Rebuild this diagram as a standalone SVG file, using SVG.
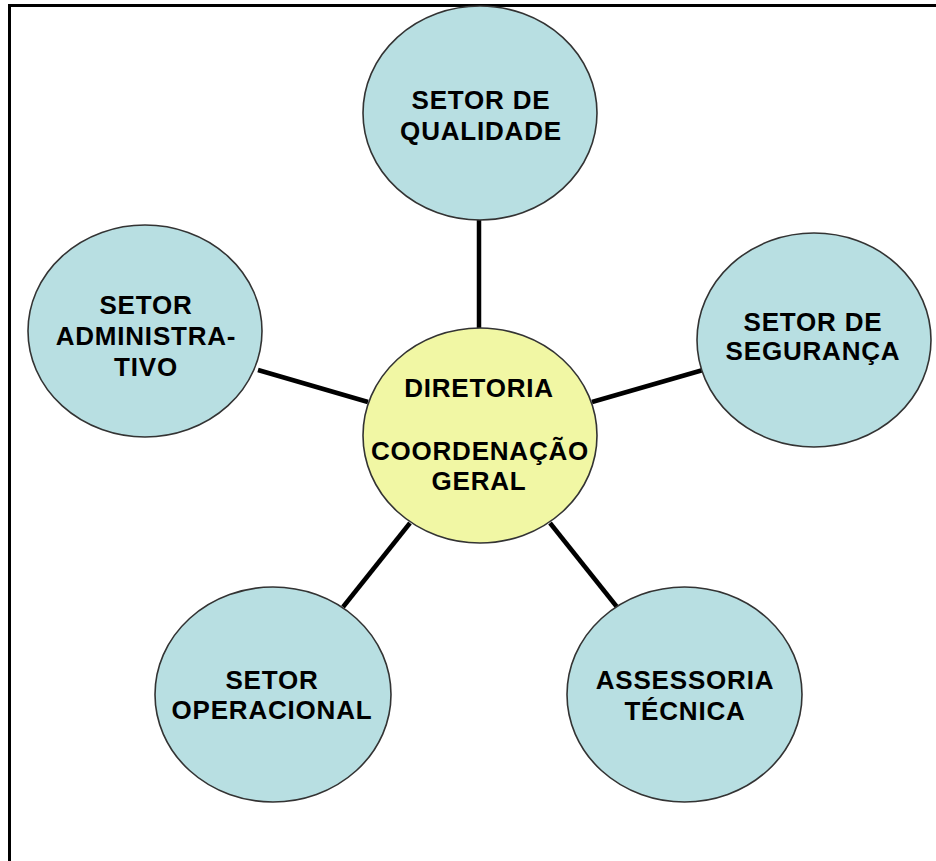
<svg xmlns="http://www.w3.org/2000/svg" width="936" height="861" viewBox="0 0 936 861">
<style>
.sat{fill:#B8DFE2;stroke:#333;stroke-width:1.6}
.hub{fill:#F1F7A4;stroke:#333;stroke-width:1.6}
.lbl{font-family:"Liberation Sans",Arial,sans-serif;font-weight:bold;font-size:26px;letter-spacing:0.8px;fill:#000;text-anchor:middle}
.con{stroke:#000;stroke-width:4.5;fill:none}
</style>
<rect width="936" height="861" fill="#fff"/>
<path d="M9.5 861 V5.5 H936" fill="none" stroke="#000" stroke-width="3"/>
<g id="connectors">
<line class="con" x1="479" y1="220" x2="479" y2="330"/>
<line class="con" x1="258" y1="370" x2="368" y2="402"/>
<line class="con" x1="592" y1="402" x2="703" y2="370"/>
<line class="con" x1="410" y1="523" x2="343" y2="607"/>
<line class="con" x1="550" y1="523" x2="617" y2="607"/>
</g>
<g id="qualidade">
<ellipse class="sat" cx="480" cy="113" rx="117" ry="107"/>
<text class="lbl" x="481" y="109">SETOR DE</text>
<text class="lbl" x="481" y="140">QUALIDADE</text>
</g>
<g id="seguranca">
<ellipse class="sat" cx="814" cy="340" rx="117" ry="107"/>
<text class="lbl" x="813" y="331">SETOR DE</text>
<text class="lbl" x="813" y="360">SEGURANÇA</text>
</g>
<g id="administrativo">
<ellipse class="sat" cx="145" cy="331" rx="117" ry="106"/>
<text class="lbl" x="146" y="314">SETOR</text>
<text class="lbl" x="146" y="345">ADMINISTRA-</text>
<text class="lbl" x="146" y="376">TIVO</text>
</g>
<g id="operacional">
<ellipse class="sat" cx="273" cy="694.5" rx="118" ry="107.5"/>
<text class="lbl" x="272" y="689">SETOR</text>
<text class="lbl" x="272" y="719">OPERACIONAL</text>
</g>
<g id="assessoria">
<ellipse class="sat" cx="684.5" cy="694.5" rx="117.5" ry="107.5"/>
<text class="lbl" x="685" y="689">ASSESSORIA</text>
<text class="lbl" x="685" y="720">TÉCNICA</text>
</g>
<g id="diretoria">
<ellipse class="hub" cx="480" cy="435.5" rx="117" ry="107.5"/>
<text class="lbl" x="479" y="397">DIRETORIA</text>
<text class="lbl" x="480" y="460">COORDENAÇÃO</text>
<text class="lbl" x="479" y="490">GERAL</text>
</g>
</svg>
